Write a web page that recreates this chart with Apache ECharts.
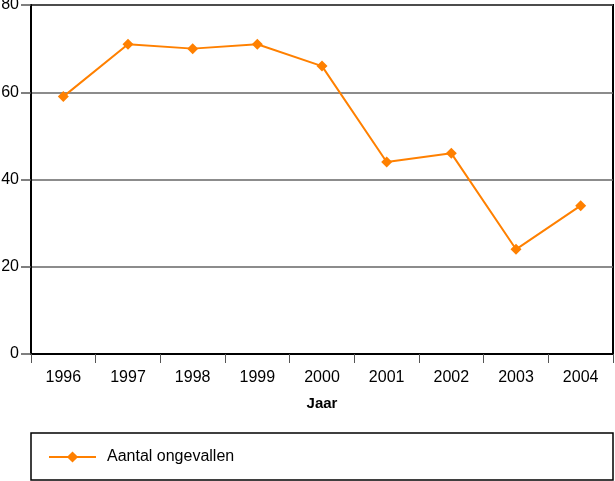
<!DOCTYPE html>
<html><head><meta charset="utf-8">
<script src="https://cdn.jsdelivr.net/npm/echarts@6/dist/echarts.min.js"></script>
<style>html,body{margin:0;padding:0;background:#fff}#c{width:615px;height:481px}</style>
</head><body><div id="c"></div>
<script>
var years = ['1996','1997','1998','1999','2000','2001','2002','2003','2004'];
var accidents = [59, 71, 70, 71, 66, 44, 46, 24, 34];
var seriesName = 'Aantal ongevallen';
var xName = 'Jaar';
var FONT = '"Liberation Sans", Arial, sans-serif';
var chart = echarts.init(document.getElementById('c'), null, {renderer:'canvas'});
chart.setOption({
  animation: false,
  textStyle: {fontFamily: FONT},
  grid: {left: 31, top: 5, right: 2, bottom: 127, show: true, borderColor: '#000', borderWidth: 2, containLabel: false, outerBoundsMode: 'none'},
  graphic: [{type: 'rect', shape: {x: 31, y: 433, width: 582, height: 47}, style: {fill: 'none', stroke: '#000', lineWidth: 1.5}}],
  legend: {
    left: 43, top: 444, itemWidth: 47, itemHeight: 14, itemGap: 10,
    textStyle: {fontFamily: FONT, fontSize: 16, color: '#000', padding: [0, 0, 0, 6]},
    data: [seriesName]
  },
  xAxis: {
    type: 'category', data: years, boundaryGap: true,
    name: xName, nameLocation: 'middle', nameGap: 42,
    nameTextStyle: {fontFamily: FONT, fontSize: 15, fontWeight: 'bold', color: '#000'},
    axisLine: {lineStyle: {color: '#000', width: 2}},
    axisTick: {show: true, length: 9, lineStyle: {color: '#555', width: 1}, alignWithLabel: false},
    axisLabel: {fontFamily: FONT, fontSize: 16, color: '#000', margin: 16}
  },
  yAxis: {
    type: 'value', min: 0, max: 80, interval: 20,
    axisLine: {show: true, lineStyle: {color: '#000', width: 2}},
    axisTick: {show: true, length: 10, lineStyle: {color: '#555', width: 1.5}},
    axisLabel: {fontFamily: FONT, fontSize: 16, color: '#000', margin: 12},
    splitLine: {show: true, lineStyle: {color: '#666', width: 1.5}}
  },
  series: [{
    name: seriesName, type: 'line', data: accidents,
    symbol: 'diamond', symbolSize: 11,
    lineStyle: {color: '#FF8000', width: 2},
    itemStyle: {color: '#FF8000'}
  }]
});
</script></body></html>
